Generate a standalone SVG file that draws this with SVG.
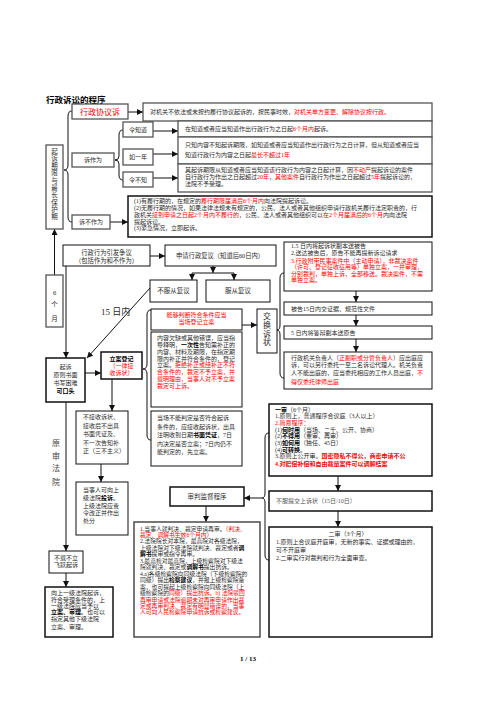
<svg xmlns="http://www.w3.org/2000/svg" width="496" height="702" viewBox="0 0 496 702">
<defs>
<style>
text{font-family:"Liberation Serif","Noto Sans CJK SC",serif;font-size:6px;fill:#2a2a2a}
.g{fill:#fff;stroke:#555;stroke-width:1.3}
.k{fill:#fff;stroke:#111;stroke-width:1}
.kk{fill:#fff;stroke:#111;stroke-width:1.5}
.r{fill:#f00}
.b{font-weight:bold;fill:#000}
.m{text-anchor:middle}
.c{fill:none;stroke:#111;stroke-width:1}
.a{marker-end:url(#ah)}
.zs text{font-size:5.8px}
</style>
<marker id="ah" markerUnits="userSpaceOnUse" markerWidth="6" markerHeight="6" refX="6" refY="3" orient="auto">
<path d="M0,0 L6,3 L0,6 z" fill="#111"/>
</marker>
</defs>
<rect width="496" height="702" fill="#fff"/>
<text x="46" y="103" style="font-size:8.5px;font-weight:bold;fill:#000">行政诉讼的程序</text>

<g id="connectors">
<path class="c a" d="M128,112 L143,112"/>
<path class="c" d="M72,111 Q68,111 68,116 L68,165 Q68,170 64,170 Q68,170 68,175 L68,217 Q68,222 72,222"/>
<path class="c" d="M123,130 Q119,130 119,135 L119,156 Q119,160 115,160 Q119,160 119,164 L119,175 Q119,180 123,180"/>
<path class="c a" d="M153,131 L178,131"/>
<path class="c a" d="M153,154 L178,154"/>
<path class="c a" d="M153,178 L178,178"/>
<path class="c a" d="M110,222 L128,222"/>
<path class="c a" d="M54.5,275 L54.5,229"/>
<path class="c a" d="M150,256 L165,256"/>
<path class="c a" d="M213,266 L213,273"/>
<path class="c" d="M192,273 L234,273"/>
<path class="c a" d="M192,273 L192,280"/>
<path class="c a" d="M234,273 L234,280"/>
<path class="c a" d="M150,288 L87,358"/>
<path class="c a" d="M66,266 L66,358"/>
<path class="c a" d="M85,373 L101,373"/>
<path class="c a" d="M112,379 L112,411"/>
<path class="c a" d="M101,464 L101,482"/>
<path class="c a" d="M66,402 L66,551"/>
<path class="c a" d="M66,573 L66,587"/>
<path class="c" d="M151,310 Q147,310 147,315 L147,364 Q147,369 143,369 Q147,369 147,374 L147,435 Q147,440 151,440"/>
<path class="c a" d="M242,325 L257,325"/>
<path class="c" d="M284,273 Q280,273 280,278 L280,325 Q280,330 277,330 Q280,330 280,335 L280,373 Q280,378 284,378"/>
<path class="c a" d="M356,291 L356,302"/>
<path class="c a" d="M356,315 L356,326"/>
<path class="c a" d="M356,339 L356,352"/>
<path class="c a" d="M338,476 L338,491"/>
<path class="c a" d="M338,511 L338,527"/>
<path class="c" d="M269,433 Q265,433 265,438 L265,493 Q265,498 262,498 Q265,498 265,503 L265,555 Q265,560 269,560"/>
<path class="c a" d="M262,498 L244,498"/>
<path class="c a" d="M206,506 L206,522"/>
</g>

<g id="xieyi">
<rect class="g" x="72" y="104" width="56" height="15"/>
<text class="m r" x="100" y="114.8" style="font-size:8px">行政协议诉</text>
</g>
<g id="xieyi-note">
<rect class="g" x="143" y="103" width="289" height="18"/>
<text x="150" y="114">对机关不依法或未按约履行协议起诉的，按民事时效，<tspan class="r">对机关单方变更、解除协议按行政。</tspan></text>
</g>
<g id="qixian">
<rect class="g" x="46" y="145" width="17" height="84"/>
<text class="m" x="54.5" style="font-size:6.5px"><tspan x="54.5" y="153.5">起</tspan><tspan x="54.5" y="160.8">诉</tspan><tspan x="54.5" y="168.1">期</tspan><tspan x="54.5" y="175.4">限</tspan><tspan x="54.5" y="182.7">与</tspan><tspan x="54.5" y="190">最</tspan><tspan x="54.5" y="197.3">长</tspan><tspan x="54.5" y="204.6">保</tspan><tspan x="54.5" y="211.9">护</tspan><tspan x="54.5" y="219.2">期</tspan></text>
</g>
<g id="suzuowei">
<rect class="g" x="72" y="153" width="42" height="14"/>
<text class="m" x="93" y="162.3">诉作为</text>
</g>
<g id="lingzhidao">
<rect class="g" x="123" y="122" width="30" height="15"/>
<text class="m" x="138" y="131.5">令知道</text>
</g>
<g id="ruyinian">
<rect class="g" x="123" y="149" width="30" height="16"/>
<text class="m" x="138" y="159">如一年</text>
</g>
<g id="lingbuzhi">
<rect class="g" x="123" y="172" width="30" height="15"/>
<text class="m" x="138" y="181.5">令不知</text>
</g>
<g id="stack1">
<rect class="g" x="178" y="121" width="254" height="16"/>
<text x="185" y="131">在知道或者应当知道作出行政行为之日起<tspan class="r">6个月内</tspan>起诉。</text>
</g>
<g id="stack2">
<rect class="g" x="178" y="137" width="254" height="27"/>
<text x="185" y="147">只知内容不知起诉期限，如知道或者应当知道作出行政行为之日计算，但从知道或者应当</text>
<text x="185" y="157">知道行政行为内容之日起<tspan class="r">最长不超过1年</tspan></text>
</g>
<g id="stack3">
<rect class="g" x="178" y="164" width="254" height="28"/>
<text x="185" y="172">其起诉期限从知道或者应当知道该行政行为内容之日起计算，因<tspan class="r">不动产</tspan>提起诉讼的案件</text>
<text x="185" y="178.5">自行政行为作出之日起超过<tspan class="r">20年</tspan>，<tspan class="r">其他案件</tspan>自行政行为作出之日起超过<tspan class="r">5年</tspan>提起诉讼的，</text>
<text x="185" y="186">法院不予受理。</text>
</g>
<g id="subuzuowei">
<rect class="g" x="72" y="215" width="38" height="14"/>
<text class="m" x="91" y="224.3">诉不作为</text>
</g>
<g id="buzuowei-note">
<rect class="kk" x="128" y="196" width="304" height="41"/>
<text x="134" y="202.5">(1)有履行期的，在规定的<tspan class="r">履行期限届满后6个月内</tspan>向法院提起诉讼。</text>
<text x="134" y="209.5">(2)无履行期的情况，如果法律法规未有规定的，公民、法人或者其他组织申请行政机关履行法定职责的，行</text>
<text x="134" y="216.5">政机关<tspan class="r">接到申请之日起2个月内不履行的</tspan>，公民、法人或者其他组织可以<tspan class="r">在2个月届满后的6个月</tspan>内向法院</text>
<text x="134" y="223.5">提起诉讼。</text>
<text x="134" y="230">(3)紧急情况，立即起诉。</text>
</g>
<g id="liugeyue">
<rect class="g" x="46" y="275" width="17" height="52"/>
<text class="m" x="54.5" style="font-size:6.5px"><tspan x="54.5" y="295">6</tspan><tspan x="54.5" y="307">个</tspan><tspan x="54.5" y="321">月</tspan></text>
</g>
<g id="zhengyi">
<rect class="k" x="63" y="245" width="87" height="21"/>
<text class="m" x="106.5" y="255" style="font-size:6.3px">行政行为引发争议</text>
<text class="m" x="106.5" y="263" style="font-size:6.3px">（包括作为和不作为）</text>
</g>
<g id="fuyi">
<rect class="k" x="165" y="245" width="111" height="21"/>
<text x="176" y="258" style="font-size:6.3px">申请行政复议（知道后60日内）</text>
</g>
<g id="bufu">
<rect class="k" x="150" y="280" width="47" height="22"/>
<text class="m" x="173.5" y="293" style="font-size:6.5px">不服从复议</text>
</g>
<g id="fucong">
<rect class="k" x="206" y="280" width="64" height="22"/>
<text class="m" x="238" y="293" style="font-size:6.5px">服从复议</text>
</g>
<text x="101" y="315" style="font-size:9px">15 日内</text>
<g id="qisu">
<rect class="kk" x="46" y="358" width="39" height="44"/>
<text class="m" x="65.5" y="369">起诉</text>
<text class="m" x="65.5" y="377">原则书面</text>
<text class="m" x="65.5" y="384.5">书写困难</text>
<text class="m b" x="65.5" y="393">可口头</text>
</g>
<g id="lian">
<rect class="kk" x="101" y="352" width="41" height="27"/>
<text class="m b" x="121.5" y="361">立案登记</text>
<text class="m r" x="121.5" y="368">（一律接</text>
<text class="m r" x="121.5" y="374.5">收诉状）</text>
</g>
<g id="sanbu">
<rect class="k" x="76" y="411" width="52" height="53"/>
<text x="83" y="419">不接收诉状、</text>
<text x="83" y="427.5">接收后不出具</text>
<text x="83" y="436">书面凭证及、</text>
<text x="83" y="444.5">不一次告知补</text>
<text x="83" y="453">正（三不主义）</text>
</g>
<g id="tousu">
<rect class="k" x="76" y="482" width="52" height="53"/>
<text x="83" y="492">当事人可向上</text>
<text x="83" y="500">级法院<tspan class="b r">投诉</tspan>。</text>
<text x="83" y="507.5">上级法院应责</text>
<text x="83" y="515">令改正并作出</text>
<text x="83" y="523">处分</text>
</g>
<text class="m" x="56" style="font-size:8px;fill:#444"><tspan x="56" y="445.5">原</tspan><tspan x="56" y="458.5">审</tspan><tspan x="56" y="470.5">法</tspan><tspan x="56" y="484.5">院</tspan></text>
<g id="buzai">
<rect class="k" x="49" y="551" width="34" height="22"/>
<text class="m" x="66" y="560">不载不立</text>
<text class="m" x="66" y="566.5">飞跃起诉</text>
</g>
<g id="shangyiji">
<rect class="kk" x="45" y="587" width="68" height="50"/>
<text x="51" y="595">向上一级法院起诉，</text>
<text x="51" y="601.5">符合受理条件的，上</text>
<text x="51" y="607.5">一级法院应当予以</text>
<text x="51" y="614"><tspan class="b">立案、审理</tspan>。也可以</text>
<text x="51" y="620.5">指定其他下级法院</text>
<text x="51" y="629">立案、审理。</text>
</g>
<g id="dangchang">
<rect class="k" x="151" y="309" width="91" height="21"/>
<text class="m r" x="196.5" y="317">能够判断符合条件应当</text>
<text class="m r" x="196.5" y="323.7">当场登记立案</text>
</g>
<g id="buzheng">
<rect class="k" x="151" y="332" width="91" height="75"/>
<text x="157" y="340">内容欠缺或其他错误，应当指</text>
<text x="157" y="347">导释明，<tspan class="b">一次性</tspan>告知需补正的</text>
<text x="157" y="354">内容、材料及期限，在指定期</text>
<text x="157" y="360.5">限内补正并符合条件的，登记</text>
<text x="157" y="367">立案。<tspan class="r">拒绝补正或经补正不符</tspan></text>
<text x="157" y="374" class="r">合条件的，裁定不予立案，并</text>
<text x="157" y="381" class="r">载明理由，当事人对不予立案</text>
<text x="157" y="388" class="r">裁定可上诉。</text>
</g>
<g id="pingzheng">
<rect class="k" x="151" y="411" width="91" height="55"/>
<text x="157" y="420">当场不能判定是否符合起诉</text>
<text x="157" y="428.5">条件的，应接收起诉状，出具</text>
<text x="157" y="437">注明收到日期<tspan class="b">书面凭证</tspan>，7日</text>
<text x="157" y="445.5">内决定是否立案；7日内仍不</text>
<text x="157" y="454">能判定的，先立案。</text>
</g>
<g id="jiaohuan">
<rect class="k" x="257" y="309" width="20" height="44"/>
<text class="m" x="267" style="font-size:8px"><tspan x="267" y="319">交</tspan><tspan x="267" y="328">换</tspan><tspan x="267" y="336.5">诉</tspan><tspan x="267" y="345">状</tspan></text>
</g>
<g id="r1">
<rect class="k" x="284" y="242" width="148" height="49"/>
<text x="291" y="247.5">1.5 日内将起诉状副本送被告</text>
<text x="291" y="255.3">2.送达被告后，原告不能再提新诉讼请求</text>
<text x="291" y="262.7" class="r">3.行政附带民事案件中（主动申请），非裁决案件</text>
<text x="291" y="269" class="r">（许可、登记征收征用等）单独立案，一并审理，</text>
<text x="291" y="275.5" class="r">分别裁判，单独上诉，全部移送。裁决案件，不需</text>
<text x="291" y="282" class="r">单独立案。</text>
</g>
<g id="r2">
<rect class="k" x="284" y="302" width="148" height="13"/>
<text x="291" y="310.5">被告15日内交证据、规范性文件</text>
</g>
<g id="r3">
<rect class="k" x="284" y="326" width="148" height="13"/>
<text x="291" y="334.5">5 日内将答辩副本送原告</text>
</g>
<g id="r4">
<rect class="k" x="284" y="352" width="148" height="37"/>
<text x="291" y="359.5">行政机关负责人（<tspan class="r">正副职或分管负责人</tspan>）应出庭应</text>
<text x="291" y="367">诉，可以另行委托一至二名诉讼代理人。机关负责</text>
<text x="291" y="375">人不能出庭的，应当委托相应的工作人员出庭，<tspan class="r">不</tspan></text>
<text x="291" y="383.5" class="r">得仅委托律师出庭</text>
</g>
<g id="yishen">
<rect class="kk" x="269" y="404" width="163" height="72"/>
<text x="275" y="411.5"><tspan class="b">一审</tspan>（6个月）</text>
<text x="275" y="418.2">1.原则上，普通程序合议庭（3人以上）</text>
<text x="275" y="424.9" class="r">2.简易程序：</text>
<text x="275" y="431.6">(1)<tspan class="b">何时用</tspan>（当场、二千、公开、协商）</text>
<text x="275" y="438.3">(2)<tspan class="b">不得用</tspan>（重审、再审）</text>
<text x="275" y="445">(3)<tspan class="b">如何用</tspan>（独任、45日）</text>
<text x="275" y="451.7">(4)<tspan class="b">可转换</tspan>。</text>
<text x="275" y="458.4">3.原则上公开审。<tspan class="r" font-weight="bold">国密隐私不得公，商密申请不公</tspan></text>
<text x="275" y="466" class="r" font-weight="bold">4.对赔偿补偿和自由裁量案件可以调解结案</text>
</g>
<g id="shangsu">
<rect class="kk" x="269" y="491" width="163" height="20"/>
<text x="276" y="502.5" style="fill:#555">不服提交上诉状（15日/10日）</text>
</g>
<g id="ershen">
<rect class="kk" x="269" y="527" width="163" height="110"/>
<text class="m" x="348" y="535.5">二审（3个月）</text>
<text x="276" y="544">1.原则上合议庭开庭审，无新的事实、证据或理由的，</text>
<text x="276" y="552">可不开庭审</text>
<text x="276" y="560">2.二审实行对裁判和行为全面审查。</text>
</g>
<g id="jiandu">
<rect class="kk" x="170" y="487" width="74" height="19"/>
<text class="m" x="207" y="499" style="font-size:6.5px">审判监督程序</text>
</g>
<g id="zaishen" class="zs">
<rect class="g" x="134" y="522" width="126" height="115" style="stroke-width:1.6"/>
<text x="140" y="530.5">1.当事人就判决、裁定申请再审。<tspan class="r">（判决、</tspan></text>
<text x="140" y="537" class="r">裁定、调解书生效6个月内）</text>
<text x="140" y="543.4">2.法院院长对本院，最高院对各级法院，</text>
<text x="140" y="549.9">上级法院对下级法院就判决、裁定或者<tspan class="b">调</tspan></text>
<text x="140" y="556.3"><tspan class="b">解书</tspan>提审或指令再审。</text>
<text x="140" y="562.8">3.最高检对最高院，上级检察院对下级法</text>
<text x="140" y="569.2">院就判决、裁定或<tspan class="b">调解书</tspan>提出抗诉。</text>
<text x="140" y="575.7">4.a)各级检察院向同级法院（下级检察院的</text>
<text x="140" y="582.1">同级）提出<tspan class="b">检察建议</tspan>，并报上级检察院备</text>
<text x="140" y="588.6">案，也可提起上级检察院向同级法院（上</text>
<text x="140" y="595">级检察院的<tspan class="r">同级）提出抗诉。b) 法院驳回</tspan></text>
<text x="140" y="601.5" class="r">再审申请或法院逾期未对再审申请作出裁</text>
<text x="140" y="607.9" class="r">定或再审判决、裁定有明显错误的，当事</text>
<text x="140" y="614.4" class="r">人可向人民检察院申请抗诉或检察建议。</text>
</g>
<text class="m" x="248" y="661" style="font-size:7px;font-weight:bold;fill:#000">1 / 13</text>
</svg>
